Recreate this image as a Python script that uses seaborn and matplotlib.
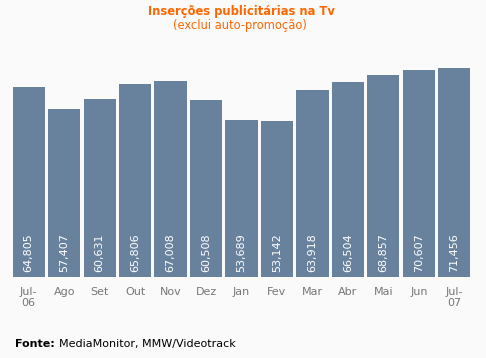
import matplotlib
matplotlib.use("Agg")
import matplotlib.pyplot as plt
import seaborn as sns
import pandas as pd

months = ["Jul-\n06", "Ago", "Set", "Out", "Nov", "Dez", "Jan", "Fev", "Mar", "Abr", "Mai", "Jun", "Jul-\n07"]
values = [64805, 57407, 60631, 65806, 67008, 60508, 53689, 53142, 63918, 66504, 68857, 70607, 71456]
labels = ["64,805", "57,407", "60,631", "65,806", "67,008", "60,508", "53,689", "53,142",
          "63,918", "66,504", "68,857", "70,607", "71,456"]

sns.set_theme(style="white")
plt.rcParams['font.family'] = ['DejaVu Sans']

bg = "#FAFAFA"
bar_color = "#68829E"
orange = "#FF6600"

fig = plt.figure(figsize=(4.86, 3.58), dpi=100, facecolor=bg)
W, H = 486, 358
ax_left, ax_right = 11, 472
ax_bottom, ax_top = 277, 42.5
ax = fig.add_axes([ax_left / W, 1 - ax_bottom / H, (ax_right - ax_left) / W, (ax_bottom - ax_top) / H])
ax.set_facecolor(bg)

df = pd.DataFrame({"month": months, "value": values})
sns.barplot(data=df, x="month", y="value", color=bar_color, saturation=1, width=0.91,
            linewidth=0, ax=ax)

ax.set_xlim(-0.5, len(months) - 0.5)
ax.set_ylim(0, 80000)
for s in ax.spines.values():
    s.set_visible(False)
ax.set_yticks([])
ax.set_xlabel("")
ax.set_ylabel("")
ax.tick_params(axis="x", length=0, pad=7, labelsize=8, labelcolor="#777777")

for i, lab in enumerate(labels):
    ax.text(i, 1700, lab, rotation=90, ha="center", va="bottom", color="white", fontsize=8)

fig.text(241 / W, 1 - 12 / H, "Inserções publicitárias na Tv", ha="center", va="center",
         color=orange, fontsize=8.3, fontweight="bold")
fig.text(240 / W, 1 - 26 / H, "(exclui auto-promoção)", ha="center", va="center",
         color=orange, fontsize=8.3)
t = fig.text(15 / W, 1 - 344 / H, "Fonte:", ha="left", va="center",
             color="black", fontsize=8, fontweight="bold")
fig.canvas.draw()
bb = t.get_window_extent()
fig.text((bb.x1 + 4) / W, 1 - 344 / H, "MediaMonitor, MMW/Videotrack", ha="left", va="center",
         color="black", fontsize=8)

fig.savefig("out.png", dpi=100, facecolor=bg)
